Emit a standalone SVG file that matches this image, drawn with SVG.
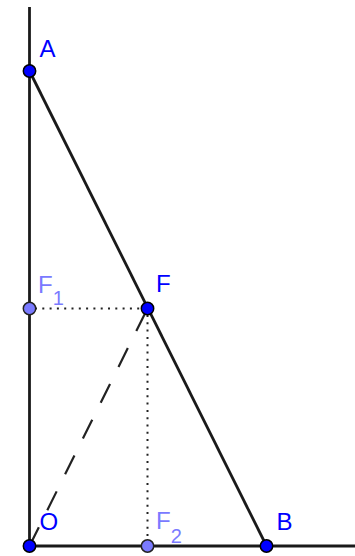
<svg xmlns="http://www.w3.org/2000/svg" width="355" height="556" viewBox="0 0 355 556">
<style>
.ln{stroke:#1a1a1a;stroke-width:2.8;fill:none;stroke-linecap:butt}
.dash{stroke:#222;stroke-width:2.2;fill:none;stroke-dasharray:21 19}
.dot{stroke:#222;stroke-width:2;fill:none;stroke-dasharray:2 5.3}
.pt{fill:#0000ff;stroke:#000;stroke-width:1.5}
.pt2{fill:#7a7aff;stroke:#222;stroke-width:1.5}
.lb{font-family:"Liberation Sans",Arial,sans-serif;font-size:24px;fill:#0000ff}
.lb2{font-family:"Liberation Sans",Arial,sans-serif;font-size:24px;fill:#7a7aff}
.sub{font-size:20px}
</style>
<rect width="355" height="556" fill="#fff"/>
<g id="connectors">
<line class="ln" x1="29.5" y1="7" x2="29.5" y2="546"/>
<line class="ln" x1="29.5" y1="546" x2="355" y2="546"/>
<line class="ln" x1="29.5" y1="71" x2="266.5" y2="546"/>
<line class="dash" x1="29.5" y1="546" x2="147.5" y2="308.5"/>
<line class="dot" x1="35" y1="308.5" x2="147.5" y2="308.5"/>
<line class="dot" x1="147.5" y1="315" x2="147.5" y2="546"/>
</g>
<g id="A"><circle class="pt" cx="29.5" cy="71" r="6.2"/><text class="lb" x="39.5" y="57">A</text></g>
<g id="F1"><circle class="pt2" cx="29.5" cy="308.5" r="6.2"/><text class="lb2" x="38" y="293">F<tspan class="sub" dy="12">1</tspan></text></g>
<g id="F"><circle class="pt" cx="147.5" cy="308.5" r="6.2"/><text class="lb" x="156" y="292">F</text></g>
<g id="O"><circle class="pt" cx="29.5" cy="546" r="6.2"/><text class="lb" x="39.5" y="530">O</text></g>
<g id="F2"><circle class="pt2" cx="147.5" cy="546" r="6.2"/><text class="lb2" x="156" y="529">F<tspan class="sub" dy="14">2</tspan></text></g>
<g id="B"><circle class="pt" cx="266.5" cy="546" r="6.2"/><text class="lb" x="276.5" y="530">B</text></g>
</svg>
